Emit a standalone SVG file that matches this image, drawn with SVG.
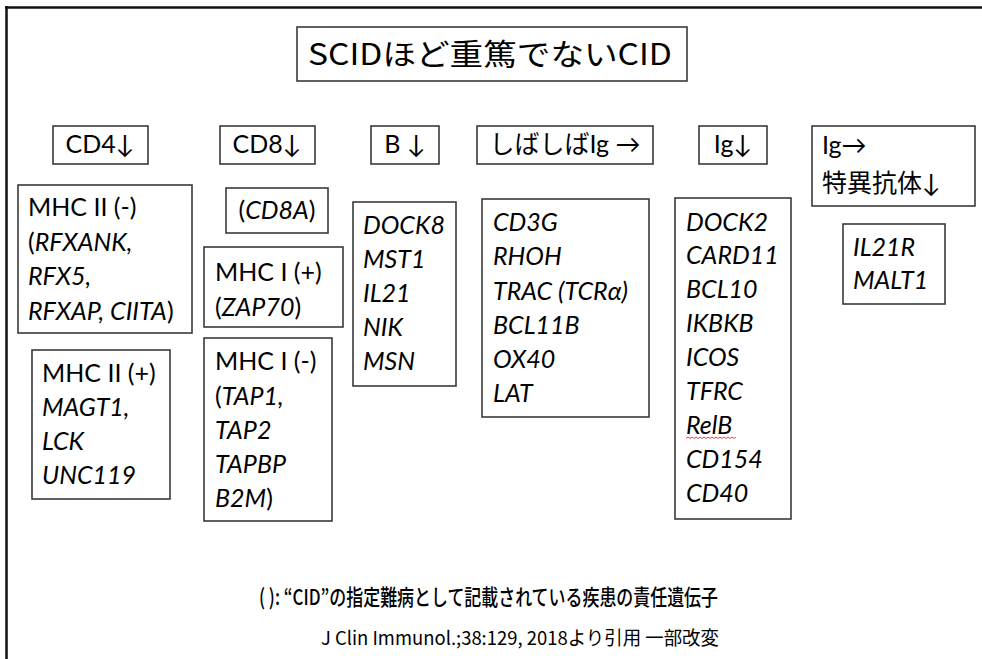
<svg xmlns="http://www.w3.org/2000/svg" width="982" height="659" viewBox="0 0 982 659">
<style>
.box{fill:#fff;stroke:#3a3a3a;stroke-width:1.6}
.t{font-family:Lato,"Noto Sans CJK JP",sans-serif;font-size:25px;fill:#000}
.i{font-style:italic}
.jp{font-family:"Noto Sans CJK JP","Noto Sans",sans-serif;fill:#000}
.c{text-anchor:middle}
</style>
<rect width="982" height="659" fill="#fff"/>
<g id="frame" fill="none" stroke="#111" stroke-width="2.5">
<line x1="5" y1="7.5" x2="982" y2="7.5"/>
<line x1="6.5" y1="6" x2="6.5" y2="659"/>
</g>
<g id="title">
<rect class="box" x="297" y="27" width="390" height="54"/>
<text class="jp" x="308" y="65" font-size="30" textLength="364" lengthAdjust="spacingAndGlyphs">SCIDほど重篤でないCID</text>
</g>
<g id="h-cd4"><rect class="box" x="53" y="126" width="95" height="38"/><text class="t c" x="100" y="153">CD4↓</text></g>
<g id="h-cd8"><rect class="box" x="220" y="126" width="95" height="38"/><text class="t c" x="267" y="153">CD8↓</text></g>
<g id="h-b"><rect class="box" x="371" y="126" width="68" height="38"/><text class="t c" x="405" y="153">B ↓</text></g>
<g id="h-ig-normal"><rect class="box" x="477" y="126" width="176" height="38"/><text class="t c" x="565" y="153">しばしばIg →</text></g>
<g id="h-ig-low"><rect class="box" x="699" y="126" width="68" height="38"/><text class="t c" x="733" y="153">Ig↓</text></g>
<g id="h-specific"><rect class="box" x="812" y="126" width="163" height="80"/>
<text class="t" x="822" y="154">Ig→</text><text class="t" x="822" y="192">特異抗体↓</text></g>
<g id="mhc2-neg"><rect class="box" x="18" y="185" width="174" height="148"/>
<text class="t"><tspan x="28" y="216">MHC II (-)</tspan><tspan x="28" y="250.5">(<tspan class="i">RFXANK,</tspan></tspan><tspan class="i" x="28" y="285">RFX5,</tspan><tspan x="28" y="319.5"><tspan class="i">RFXAP, CIITA</tspan>)</tspan></text></g>
<g id="mhc2-pos"><rect class="box" x="32" y="350" width="138" height="149"/>
<text class="t"><tspan x="42" y="382">MHC II (+)</tspan><tspan class="i" x="42" y="416">MAGT1,</tspan><tspan class="i" x="42" y="450">LCK</tspan><tspan class="i" x="42" y="484">UNC119</tspan></text></g>
<g id="cd8a"><rect class="box" x="226" y="188" width="102" height="45"/>
<text class="t c" x="277" y="219">(<tspan class="i">CD8A</tspan>)</text></g>
<g id="mhc1-pos"><rect class="box" x="204" y="247" width="139" height="80"/>
<text class="t"><tspan x="215" y="281">MHC I (+)</tspan><tspan x="215" y="316">(<tspan class="i">ZAP70</tspan>)</tspan></text></g>
<g id="mhc1-neg"><rect class="box" x="204" y="338" width="128" height="183"/>
<text class="t"><tspan x="215" y="370">MHC I (-)</tspan><tspan x="215" y="405">(<tspan class="i">TAP1,</tspan></tspan><tspan class="i" x="215" y="439">TAP2</tspan><tspan class="i" x="215" y="473">TAPBP</tspan><tspan x="215" y="507"><tspan class="i">B2M</tspan>)</tspan></text></g>
<g id="b-genes"><rect class="box" x="353" y="202" width="103" height="184"/>
<text class="t i"><tspan x="363" y="234">DOCK8</tspan><tspan x="363" y="268">MST1</tspan><tspan x="363" y="302">IL21</tspan><tspan x="363" y="336">NIK</tspan><tspan x="363" y="370">MSN</tspan></text></g>
<g id="ig-normal-genes"><rect class="box" x="482" y="199" width="167" height="218"/>
<text class="t i"><tspan x="493" y="231">CD3G</tspan><tspan x="493" y="265">RHOH</tspan><tspan x="493" y="300">TRAC (TCRα)</tspan><tspan x="493" y="334">BCL11B</tspan><tspan x="493" y="368">OX40</tspan><tspan x="493" y="402">LAT</tspan></text></g>
<g id="ig-low-genes"><rect class="box" x="675" y="198" width="116" height="321"/>
<text class="t i"><tspan x="686" y="231">DOCK2</tspan><tspan x="686" y="264">CARD11</tspan><tspan x="686" y="298">BCL10</tspan><tspan x="686" y="332">IKBKB</tspan><tspan x="686" y="366">ICOS</tspan><tspan x="686" y="400">TFRC</tspan><tspan x="686" y="434">RelB</tspan><tspan x="686" y="468">CD154</tspan><tspan x="686" y="502">CD40</tspan></text>
<path d="M686 438.5 l2 -1.5 l2 1.5 l2 -1.5 l2 1.5 l2 -1.5 l2 1.5 l2 -1.5 l2 1.5 l2 -1.5 l2 1.5 l2 -1.5 l2 1.5 l2 -1.5 l2 1.5 l2 -1.5 l2 1.5 l2 -1.5 l2 1.5 l2 -1.5 l2 1.5 l2 -1.5 l2 1.5 l2 -1.5 l2 1.5 l2 -1.5" fill="none" stroke="#e03030" stroke-width="0.9"/></g>
<g id="specific-genes"><rect class="box" x="843" y="224" width="102" height="80"/>
<text class="t i"><tspan x="853" y="256">IL21R</tspan><tspan x="853" y="289">MALT1</tspan></text></g>
<g id="connectors"/>
<g id="notes">
<text class="jp" x="259" y="605" font-size="22" font-weight="500" textLength="459" lengthAdjust="spacingAndGlyphs">( ): “CID”の指定難病として記載されている疾患の責任遺伝子</text>
<text class="jp" x="321" y="645" font-size="19" textLength="398" lengthAdjust="spacingAndGlyphs">J Clin Immunol.;38:129, 2018より引用 一部改変</text>
</g>
</svg>
